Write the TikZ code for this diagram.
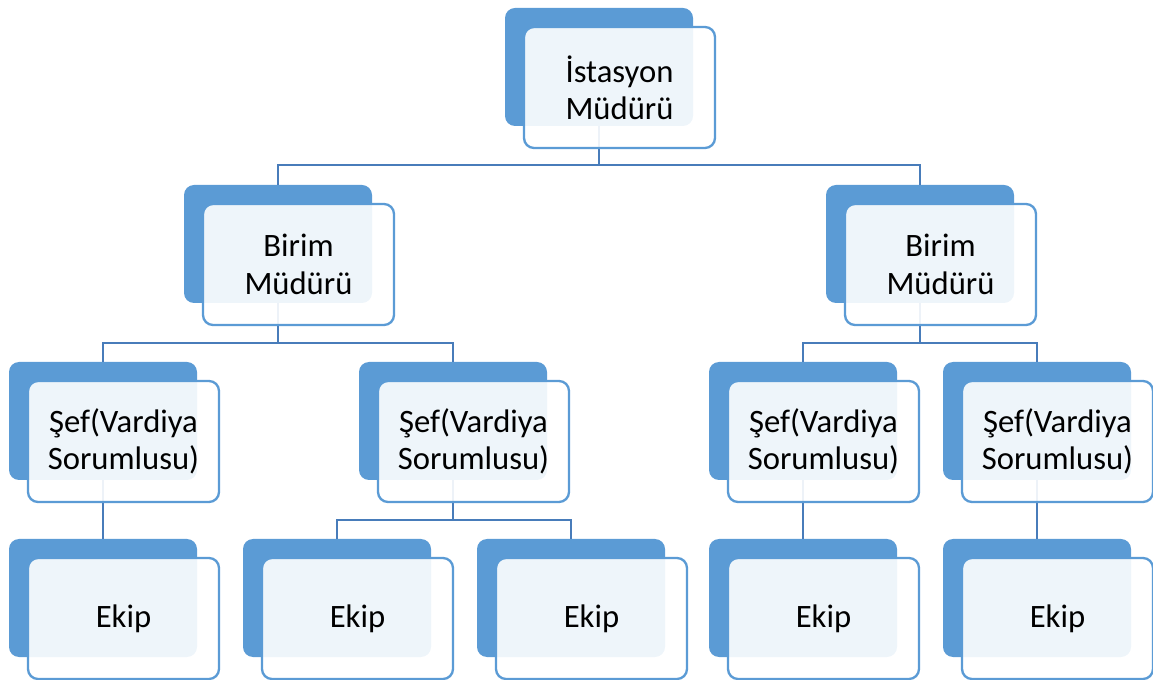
\documentclass[tikz,border=0pt]{standalone}
\usepackage{fontspec}
\setmainfont{Carlito}
\usetikzlibrary{calc}

\definecolor{backblue}{RGB}{91,155,213}
\definecolor{edgeblue}{RGB}{91,155,213}
\definecolor{linkblue}{RGB}{72,124,186}

\tikzset{every picture/.style={line width=0.75pt}}
\tikzset{
  backbox/.style={draw=none, fill=backblue, rounded corners=7.5pt, inner sep=0pt, outer sep=0pt,
    minimum width=141pt, minimum height=88.5pt},
  frontbox/.style={draw=edgeblue, line width=1.75pt, fill=white, fill opacity=0.9, text opacity=1,
    rounded corners=7.5pt, inner sep=0pt, outer sep=0pt, minimum width=143.25pt, minimum height=90.75pt,
    align=center, font=\fontsize{24.5}{28}\selectfont},
  link/.style={draw=linkblue, line width=2pt}
}

\begin{document}
\begin{tikzpicture}[x=0.75pt,y=0.75pt,yscale=-1]
\useasboundingbox (0,0) rectangle (1153,680);

% back boxes
\node[backbox] (mudur) at (599,67) {};
\node[backbox] (birimA) at (278,244) {};
\node[backbox] (birimB) at (920,244) {};
\node[backbox] (sefA) at (103,421) {};
\node[backbox] (sefB) at (453,421) {};
\node[backbox] (sefC) at (803,421) {};
\node[backbox] (sefD) at (1037,421) {};
\node[backbox] (ekipA) at (103,598) {};
\node[backbox] (ekipB) at (337,598) {};
\node[backbox] (ekipC) at (571,598) {};
\node[backbox] (ekipD) at (803,598) {};
\node[backbox] (ekipE) at (1037,598) {};

% connectors
\draw[link] (mudur.south) |- ($(birimA.north)+(0,-20)$) -- (birimA.north);
\draw[link] (mudur.south) |- ($(birimB.north)+(0,-20)$) -- (birimB.north);
\draw[link] (birimA.south) |- ($(sefA.north)+(0,-19)$) -- (sefA.north);
\draw[link] (birimA.south) |- ($(sefB.north)+(0,-19)$) -- (sefB.north);
\draw[link] (birimB.south) |- ($(sefC.north)+(0,-19)$) -- (sefC.north);
\draw[link] (birimB.south) |- ($(sefD.north)+(0,-19)$) -- (sefD.north);
\draw[link] (sefA.south) -- (ekipA.north);
\draw[link] (sefB.south) |- ($(ekipB.north)+(0,-19)$) -- (ekipB.north);
\draw[link] (sefB.south) |- ($(ekipC.north)+(0,-19)$) -- (ekipC.north);
\draw[link] (sefC.south) -- (ekipD.north);
\draw[link] (sefD.south) -- (ekipE.north);

% front boxes with text
\node[frontbox] (mudurT) at ($(mudur)+(20.5,20.5)$) {İstasyon\\Müdürü};
\node[frontbox] (birimAT) at ($(birimA)+(20.5,20.5)$) {Birim\\Müdürü};
\node[frontbox] (birimBT) at ($(birimB)+(20.5,20.5)$) {Birim\\Müdürü};
\node[frontbox] (sefAT) at ($(sefA)+(20.5,20.5)$) {Şef(Vardiya\\Sorumlusu)};
\node[frontbox] (sefBT) at ($(sefB)+(20.5,20.5)$) {Şef(Vardiya\\Sorumlusu)};
\node[frontbox] (sefCT) at ($(sefC)+(20.5,20.5)$) {Şef(Vardiya\\Sorumlusu)};
\node[frontbox] (sefDT) at ($(sefD)+(20.5,20.5)$) {Şef(Vardiya\\Sorumlusu)};
\node[frontbox] (ekipAT) at ($(ekipA)+(20.5,20.5)$) {Ekip};
\node[frontbox] (ekipBT) at ($(ekipB)+(20.5,20.5)$) {Ekip};
\node[frontbox] (ekipCT) at ($(ekipC)+(20.5,20.5)$) {Ekip};
\node[frontbox] (ekipDT) at ($(ekipD)+(20.5,20.5)$) {Ekip};
\node[frontbox] (ekipET) at ($(ekipE)+(20.5,20.5)$) {Ekip};
\end{tikzpicture}
\end{document}
